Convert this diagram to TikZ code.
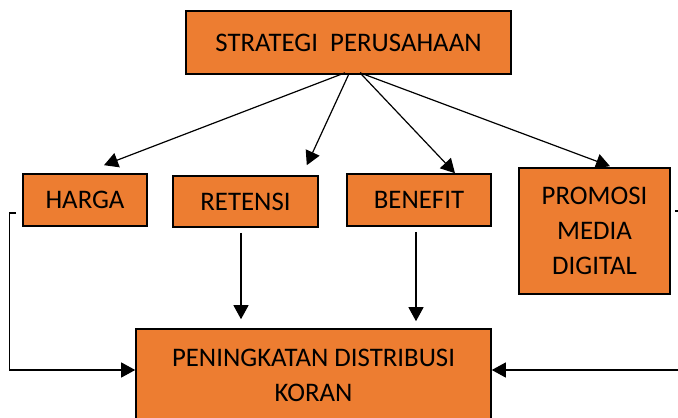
\documentclass[tikz,border=0pt]{standalone}
\usepackage{fontspec}
\setmainfont{Carlito}
\usepackage{xcolor}
\usetikzlibrary{arrows.meta,calc}
\definecolor{kotakOranye}{RGB}{237,125,49}

\tikzset{
  kotak/.style={draw=black,line width=1.6pt,fill=kotakOranye,inner sep=0pt,align=center,font=\fontsize{26.8}{35}\selectfont},
  panah/.style={-{Triangle[length=14pt,width=15pt]},line width=1.2pt}
}

\begin{document}
\begin{tikzpicture}[x=1pt,y=-1pt]
\useasboundingbox (0,0) rectangle (678,418);
\node[kotak,minimum width=325pt,minimum height=63pt] (strategi) at (348.5,42.5) {STRATEGI\ \ PERUSAHAAN};
\node[kotak,minimum width=124pt,minimum height=52pt] (harga) at (85,200) {HARGA};
\node[kotak,minimum width=145pt,minimum height=51pt] (retensi) at (245.5,201.5) {RETENSI};
\node[kotak,minimum width=144pt,minimum height=52pt] (benefit) at (419,200) {BENEFIT};
\node[kotak,minimum width=151pt,minimum height=126pt] (promosi) at (594.5,231) {PROMOSI\\MEDIA\\DIGITAL};
\node[kotak,minimum width=355pt,minimum height=92pt] (koran) at (313.5,375) {PENINGKATAN DISTRIBUSI\\KORAN};
\draw[panah] ($(strategi.south)+(-3.5,-2)$) -- ($(harga.north)+(19,-8)$);
\draw[panah] (strategi.south) -- ($(retensi.north east)+(-12,-10)$);
\draw[panah] ($(strategi.south)+(11.5,-2)$) -- ($(benefit.north)+(36,0)$);
\draw[panah] ($(strategi.south)+(11.5,-2)$) -- ($(promosi.north)+(15.5,-1)$);
\draw[panah] ($(retensi.south)+(-4.5,5)$) -- ($(retensi.south |- koran.north)+(-4.5,-9)$);
\draw[panah] ($(benefit.south)+(-3,5)$) -- ($(benefit.south |- koran.north)+(-3,-7)$);
\draw[panah] ($(harga.west)+(-6,13)$) -- ++(-7,0) |- ($(koran.west)+(0,-5)$);
\draw[panah] ($(promosi.east)+(4,-20)$) -- ++(8,0) |- ($(koran.east)+(0,-5)$);
\end{tikzpicture}
\end{document}
